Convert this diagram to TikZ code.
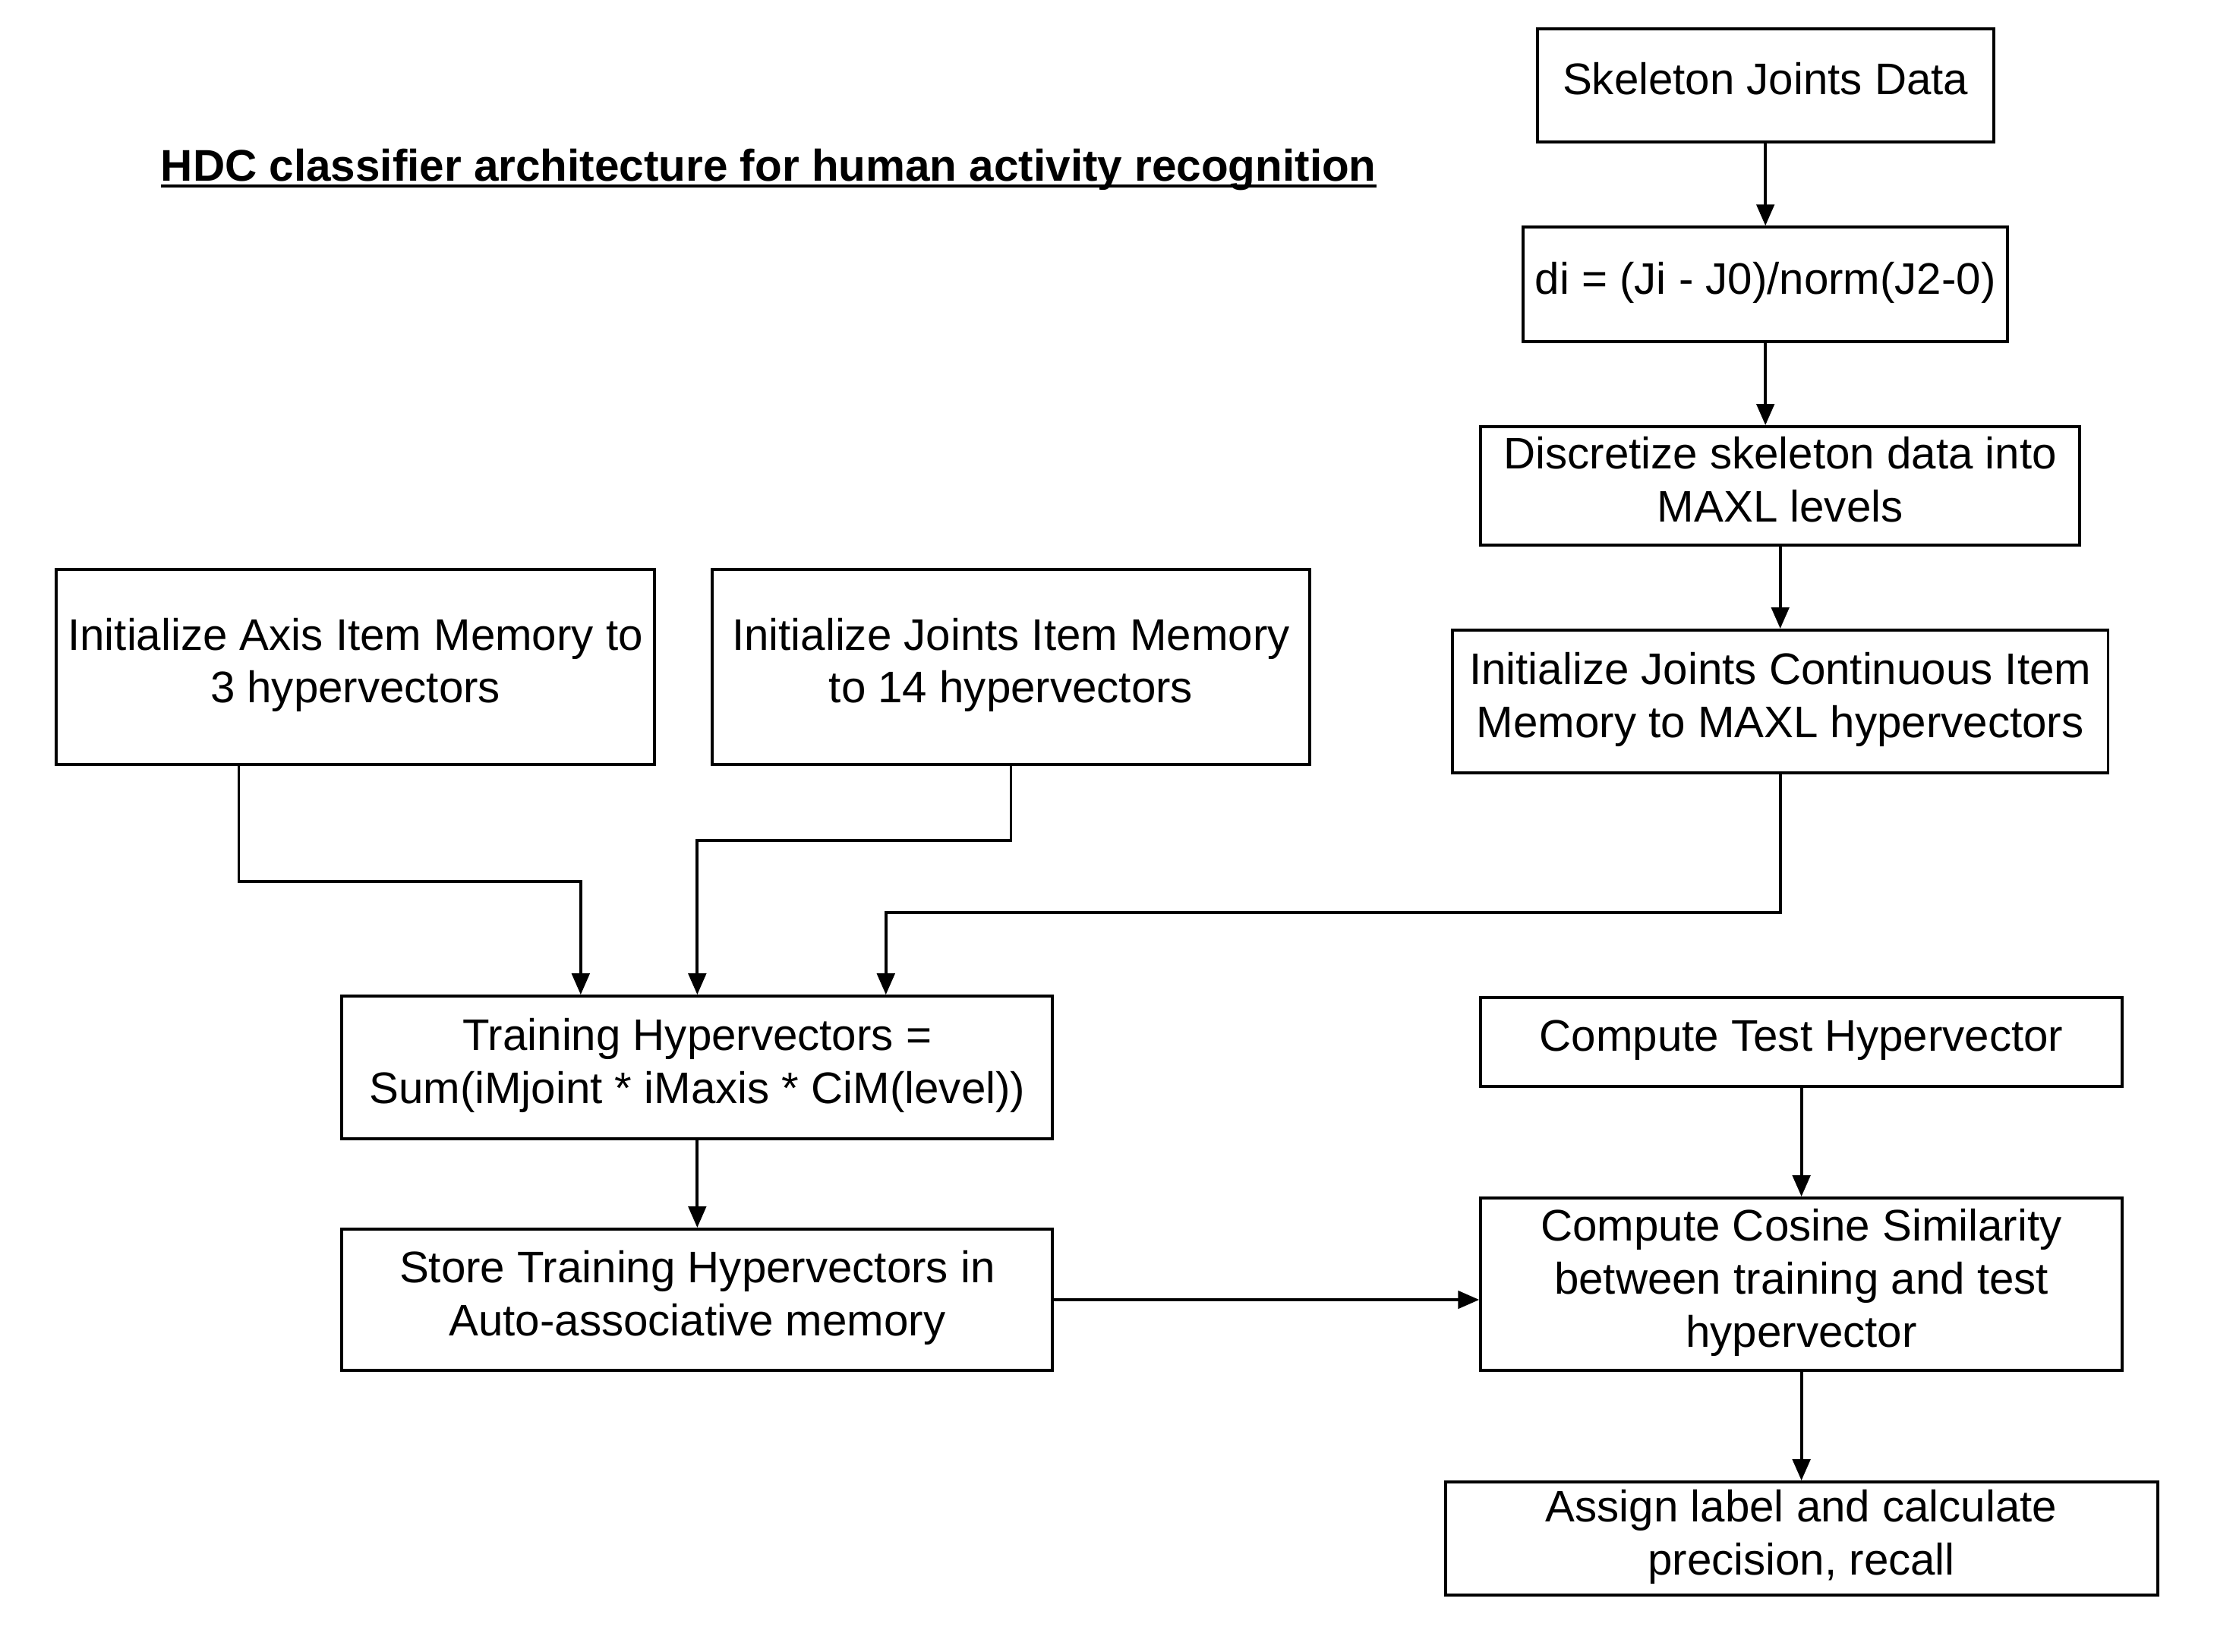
\documentclass[tikz,border=0pt]{standalone}
\usepackage{fontspec}
\setmainfont{Liberation Sans}
\usetikzlibrary{arrows.meta}
\newcommand{\ulinetitle}[1]{\setbox0\hbox{#1}\rlap{\rule[-5pt]{\wd0}{2.5pt}}\box0}

\begin{document}
\begin{tikzpicture}[x=1pt,y=-1pt,
		font=\fontsize{31.3}{37.5}\selectfont,
		block/.style={draw, line width=2.1pt, inner sep=0pt, text depth=9pt, align=center},
		arrow/.style={line width=2.1pt, -{Triangle[length=15pt,width=12.5pt]}}]
		\useasboundingbox (0,0) rectangle (1567,1169.3);
		\node[anchor=base, font=\fontsize{31.4}{37.5}\selectfont\bfseries] (title) at (544,128) {\ulinetitle{HDC classifier architecture for human activity recognition}};
		\node[block, minimum width=323pt, minimum height=80pt] (skel) at (1249.5,60.3) {Skeleton Joints Data};
		\node[block, minimum width=343pt, minimum height=81pt] (di) at (1249.5,201.3) {di = (Ji - J0)/norm(J2-0)};
		\node[block, minimum width=424pt, minimum height=84pt] (disc) at (1260,344) {Discretize skeleton data into\\MAXL levels};
		\node[block, minimum width=464pt, minimum height=101pt] (cont) at (1260,496.5) {Initialize Joints Continuous Item\\Memory to MAXL hypervectors};
		\node[block, minimum width=423pt, minimum height=138pt] (axis) at (251.5,472) {Initialize Axis Item Memory to\\3 hypervectors};
		\node[block, minimum width=423pt, minimum height=138pt] (joints) at (715.5,472) {Initialize Joints Item Memory\\to 14 hypervectors};
		\node[block, minimum width=503pt, minimum height=101pt] (train) at (493.5,755.6) {Training Hypervectors =\\Sum(iMjoint * iMaxis * CiM(level))};
		\node[block, minimum width=503pt, minimum height=100pt] (store) at (493.5,920) {Store Training Hypervectors in\\Auto-associative memory};
		\node[block, minimum width=454pt, minimum height=63pt] (test) at (1275,737.5) {Compute Test Hypervector};
		\node[block, minimum width=454pt, minimum height=122pt] (cos) at (1275,909) {Compute Cosine Similarity\\between training and test\\hypervector};
		\node[block, minimum width=504pt, minimum height=80pt] (assign) at (1275,1089) {Assign label and calculate\\precision, recall};
		\draw[arrow] (skel) -- (di);
		\draw[arrow] (di.south) -- (di.south |- disc.north);
		\draw[arrow] (disc) -- (cont);
		\draw[arrow] ([xshift=-82.5pt]axis.south) -- ++(0,82) -| ([xshift=-82.5pt]train.north);
		\draw[arrow] (joints.south) -- ++(0,53) -| (train.north);
		\draw[arrow] (cont.south) -- ++(0,98) -| ([xshift=133.5pt]train.north);
		\draw[arrow] (train) -- (store);
		\draw[arrow] (store.east) -- (store.east -| cos.west);
		\draw[arrow] (test) -- (cos);
		\draw[arrow] (cos) -- (assign);
	\end{tikzpicture}
\end{document}
